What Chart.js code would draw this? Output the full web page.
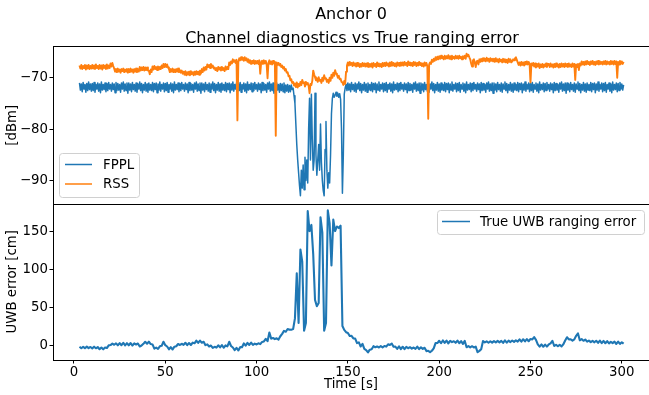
<!DOCTYPE html>
<html><head><meta charset="utf-8">
<script src="https://cdn.jsdelivr.net/npm/chart.js@4.4.1/dist/chart.umd.min.js"></script>
<style>html,body{margin:0;padding:0;background:#fff;overflow:hidden}canvas{display:block}</style>
</head><body><canvas id="c" width="649" height="395"></canvas>
<script>
// sampling: channel diagnostics every 0.5 s, ranging error every 1 s, from T_START [s]
const T_START = 3;
const DT_DIAG = 0.5;
const DT_ERR = 1;

// RSS [dBm], t = 3, 3.5, ... 301
const rssDbm = [
  -67.6,-68.2,-67.5,-68.3,-67.7,-68.1,-67.5,-68.4,-67.6,-68.2,-67.5,-68.3,-67.7,-68.2,
  -67.5,-68.2,-67.6,-68.3,-67.4,-68.1,-67.7,-68.3,-67.5,-68.2,-67.6,-68.4,-67.5,-68.1,-67.6,-68.3,-67.4,-68.2,-67.6,-68.1,
  -67.2,-67.8,-67.1,-67.7,-68.2,-68.8,-68.3,-68.9,-68.2,-68.8,-68.4,-69.0,-68.3,-68.7,-68.2,-68.9,-68.4,-68.8,-68.3,-69.0,
  -68.3,-68.9,-68.2,-68.8,-68.4,-69.0,-68.3,-68.8,-68.2,-68.9,-68.3,-68.8,-67.9,-68.6,-68.0,-68.5,-67.9,-68.6,-68.0,-68.5,
  -68.0,-68.6,-68.6,-69.3,-68.4,-68.9,-67.8,-68.4,-67.7,-68.3,-67.9,-68.5,-67.8,-68.4,-67.9,-68.3,-67.6,-68.1,-67.3,-67.9,
  -67.3,-67.9,-67.4,-68.0,-68.3,-68.9,-68.3,-68.8,-68.2,-68.9,-68.4,-68.9,-68.3,-68.8,-68.2,-68.9,-68.5,-69.0,-68.6,-69.2,
  -68.8,-69.4,-68.7,-69.5,-68.9,-69.4,-68.8,-69.5,-68.7,-69.3,-68.9,-69.5,-68.8,-69.4,-68.7,-69.3,-68.8,-69.4,-68.6,-69.2,
  -68.3,-68.9,-68.0,-68.6,-67.9,-68.4,-67.4,-67.9,-67.5,-68.1,-67.3,-67.9,-67.6,-68.2,-68.0,-68.5,-68.1,-68.7,-67.9,-68.4,
  -68.0,-68.6,-67.9,-68.5,-68.1,-68.7,-67.8,-68.4,-67.9,-68.3,-67.0,-67.5,-66.8,-67.2,-66.4,-66.9,-66.6,-67.1,-66.5,-78.3,
  -66.9,-66.2,-66.6,-66.0,-66.5,-66.1,-66.7,-66.0,-66.6,-66.2,-66.9,-66.4,-67.1,-66.6,-67.3,-66.7,-67.2,-66.6,-67.3,-66.7,
  -67.2,-66.7,-67.3,-66.6,-69.2,-67.0,-66.7,-67.3,-66.6,-67.2,-66.7,-67.4,-70.1,-67.1,-66.6,-67.3,-66.8,-67.4,-66.7,-67.2,
  -66.9,-81.3,-67.0,-67.5,-67.1,-67.6,-67.3,-67.9,-67.6,-68.2,-67.9,-68.6,-68.3,-69.0,-68.9,-69.7,-69.6,-70.5,-70.3,-71.0,
  -70.8,-71.5,-71.1,-71.8,-70.9,-71.9,-71.2,-71.6,-70.8,-71.4,-70.4,-71.0,-70.9,-71.7,-70.8,-71.3,-71.0,-71.6,-73.0,-71.2,
  -71.4,-70.6,-68.6,-69.3,-69.9,-70.5,-70.1,-70.8,-69.9,-70.6,-70.4,-71.0,-70.0,-70.6,-69.5,-70.2,-70.1,-70.8,-70.4,-71.0,
  -70.0,-70.6,-69.4,-70.0,-69.0,-69.6,-68.5,-69.2,-69.4,-70.0,-69.6,-70.3,-70.2,-70.8,-70.9,-71.4,-70.6,-71.2,-68.8,-67.6,
  -67.0,-67.6,-66.9,-67.5,-67.1,-67.7,-67.0,-67.6,-67.2,-67.8,-67.1,-67.7,-67.2,-67.9,-67.3,-67.8,-67.1,-67.7,-67.2,-67.8,
  -67.2,-67.8,-67.1,-67.9,-67.3,-67.8,-67.2,-68.0,-67.1,-67.7,-67.3,-67.9,-67.0,-67.7,-67.2,-67.8,-67.3,-67.9,-67.1,-67.7,
  -67.1,-67.7,-67.0,-67.6,-67.2,-67.8,-67.0,-67.7,-66.9,-67.6,-67.1,-67.7,-67.2,-67.8,-67.0,-67.6,-67.1,-67.7,-67.0,-67.6,
  -67.0,-67.6,-66.9,-67.5,-67.1,-67.7,-66.8,-67.5,-67.0,-67.6,-67.1,-67.7,-66.9,-67.5,-67.0,-67.7,-67.1,-67.6,-66.9,-67.5,
  -67.1,-67.7,-67.2,-67.8,-67.0,-67.6,-67.1,-67.7,-78.0,-67.4,-67.0,-67.3,-66.5,-66.9,-66.3,-66.7,-66.0,-66.5,-65.9,-66.4,
  -65.8,-66.3,-65.7,-66.2,-65.9,-66.4,-65.7,-66.3,-65.8,-66.2,-65.6,-66.3,-65.8,-66.4,-65.7,-66.2,-65.9,-66.3,-65.7,-66.2,
  -65.8,-66.3,-65.7,-66.2,-65.9,-66.4,-65.8,-66.2,-65.7,-66.3,-65.3,-65.8,-65.5,-66.0,-66.4,-67.2,-67.8,-66.6,-66.4,-67.1,
  -67.9,-66.8,-66.7,-67.4,-66.4,-66.9,-66.3,-66.8,-66.2,-66.7,-66.3,-66.8,-66.1,-66.7,-66.3,-66.9,-66.2,-66.7,-66.3,-66.8,
  -66.3,-66.9,-66.2,-66.8,-66.4,-67.0,-66.3,-66.8,-66.5,-67.0,-66.3,-66.9,-66.4,-67.0,-66.5,-67.1,-66.3,-66.9,-66.4,-67.0,
  -66.8,-66.4,-66.6,-66.2,-66.0,-66.5,-67.0,-67.5,-67.0,-67.6,-66.9,-67.5,-67.0,-67.6,-66.9,-67.4,-66.8,-67.4,-66.9,-67.3,
  -70.9,-67.2,-67.6,-67.1,-67.8,-67.2,-68.0,-67.3,-67.8,-67.2,-68.1,-67.4,-67.9,-67.3,-68.0,-67.4,-67.8,-67.2,-67.9,-67.3,
  -67.3,-67.9,-67.2,-67.8,-67.4,-68.0,-67.3,-67.9,-67.2,-67.8,-67.4,-68.0,-67.3,-67.9,-67.2,-67.8,-67.3,-67.9,-67.2,-67.8,
  -67.3,-67.9,-67.2,-67.8,-67.4,-67.9,-67.2,-67.8,-67.3,-70.4,-67.4,-67.9,-67.3,-68.5,-67.2,-67.6,-66.8,-67.4,-66.9,-67.5,
  -66.8,-67.4,-66.7,-67.3,-66.9,-67.5,-66.8,-67.3,-66.7,-67.4,-66.9,-67.5,-66.8,-67.3,-66.7,-67.4,-66.8,-67.3,-66.9,-67.4,
  -66.8,-67.3,-66.7,-67.4,-66.8,-67.3,-66.9,-67.4,-66.7,-67.3,-66.8,-67.4,-66.7,-67.3,-66.8,-70.0,-66.9,-67.4,-66.7,-67.3,
  -66.8,-67.3,-66.9
];

// FPPL [dBm], t = 3, 3.5, ... 301
const fpplDbm = [
  -71.0,-72.4,-71.2,-72.7,-70.9,-72.2,-71.3,-72.8,-71.1,-72.5,-70.8,-72.3,-71.2,-72.6,
  -71.1,-72.5,-70.9,-72.8,-71.3,-72.2,-71.0,-72.6,-71.2,-72.9,-70.8,-72.4,-71.3,-72.3,-71.0,-72.7,-71.1,-72.5,-70.9,-72.2,
  -71.3,-72.6,-71.0,-72.3,-71.2,-72.9,-70.9,-72.5,-71.1,-72.4,-71.3,-72.8,-71.0,-72.2,-70.8,-72.6,-71.2,-72.5,-71.0,-73.0,
  -71.0,-72.4,-71.2,-72.7,-70.9,-72.3,-71.3,-72.6,-71.0,-72.8,-71.2,-72.2,-70.8,-72.5,-71.1,-72.9,-71.3,-72.4,-70.9,-72.6,
  -71.2,-72.8,-71.0,-72.4,-71.3,-72.5,-70.9,-72.7,-71.1,-72.3,-71.0,-72.9,-71.2,-72.4,-70.8,-72.6,-71.3,-72.2,-71.0,-72.7,
  -71.1,-72.5,-70.9,-72.8,-71.3,-72.2,-71.0,-72.6,-71.2,-72.9,-70.8,-72.4,-71.3,-72.3,-71.0,-72.7,-71.1,-72.5,-70.9,-72.2,
  -71.3,-72.6,-71.0,-72.3,-71.2,-72.9,-70.9,-72.5,-71.1,-72.4,-71.3,-72.8,-71.0,-72.2,-70.8,-72.6,-71.2,-72.5,-71.0,-73.0,
  -71.0,-72.4,-71.2,-72.7,-70.9,-72.3,-71.3,-72.6,-71.0,-72.8,-71.2,-72.2,-70.8,-72.5,-71.1,-72.9,-71.3,-72.4,-70.9,-72.6,
  -71.2,-72.8,-71.0,-72.4,-71.3,-72.5,-70.9,-72.7,-71.1,-72.3,-71.0,-72.9,-71.2,-72.4,-70.8,-72.6,-71.3,-72.2,-71.0,-72.7,
  -71.1,-72.5,-70.9,-72.8,-71.3,-72.2,-71.0,-72.6,-71.2,-72.9,-70.8,-72.4,-71.3,-72.3,-71.0,-72.7,-71.1,-72.5,-70.9,-72.2,
  -71.3,-72.6,-71.0,-72.3,-71.2,-72.9,-70.9,-72.5,-71.1,-72.4,-71.3,-72.8,-71.0,-72.2,-70.8,-72.6,-71.2,-72.5,-71.0,-73.0,
  -71.2,-72.6,-71.0,-72.4,-71.3,-72.8,-71.1,-72.5,-71.2,-72.7,-71.0,-72.9,-71.4,-72.6,-71.3,-72.8,-71.5,-72.7,-71.4,-72.3,
  -72.0,-73.5,-75.0,-79.0,-83.0,-86.0,-88.5,-91.0,-93.0,-88.0,-91.5,-87.0,-91.8,-85.5,-90.0,-86.0,-90.5,-80.0,-74.0,-86.0,
  -73.2,-82.0,-88.0,-86.0,-73.0,-85.0,-89.0,-86.0,-83.0,-88.0,-79.0,-86.5,-90.0,-92.0,-93.0,-84.0,-78.5,-88.0,-91.5,-88.5,
  -90.5,-85.0,-77.0,-74.0,-73.0,-73.8,-73.4,-72.8,-73.6,-73.0,-73.8,-73.1,-74.2,-80.0,-92.5,-85.0,-73.2,-72.0,-71.3,-72.5,
  -71.0,-72.4,-71.2,-72.7,-70.9,-72.3,-71.3,-72.6,-71.0,-72.8,-71.2,-72.2,-70.8,-72.5,-71.1,-72.9,-71.3,-72.4,-70.9,-72.6,
  -71.2,-72.8,-71.0,-72.4,-71.3,-72.5,-70.9,-72.7,-71.1,-72.3,-71.0,-72.9,-71.2,-72.4,-70.8,-72.6,-71.3,-72.2,-71.0,-72.7,
  -71.1,-72.5,-70.9,-72.8,-71.3,-72.2,-71.0,-72.6,-71.2,-72.9,-70.8,-72.4,-71.3,-72.3,-71.0,-72.7,-71.1,-72.5,-70.9,-72.2,
  -71.3,-72.6,-71.0,-72.3,-71.2,-72.9,-70.9,-72.5,-71.1,-72.4,-71.3,-72.8,-71.0,-72.2,-70.8,-72.6,-71.2,-72.5,-71.0,-73.0,
  -71.0,-72.4,-71.2,-72.7,-70.9,-72.3,-71.3,-72.6,-71.0,-72.8,-71.2,-72.2,-70.8,-72.5,-71.1,-72.9,-71.3,-72.4,-70.9,-72.6,
  -71.2,-72.8,-71.0,-72.4,-71.3,-72.5,-70.9,-72.7,-71.1,-72.3,-71.0,-72.9,-71.2,-72.4,-70.8,-72.6,-71.3,-72.2,-71.0,-72.7,
  -71.1,-72.5,-70.9,-72.8,-71.3,-72.2,-71.0,-72.6,-71.2,-72.9,-70.8,-72.4,-71.3,-72.3,-71.0,-72.7,-71.1,-72.5,-70.9,-72.2,
  -71.3,-72.6,-71.0,-72.3,-71.2,-72.9,-70.9,-72.5,-71.1,-72.4,-71.3,-72.8,-71.0,-72.2,-70.8,-72.6,-71.2,-72.5,-71.0,-73.0,
  -71.0,-72.4,-71.2,-72.7,-70.9,-72.3,-71.3,-72.6,-71.0,-72.8,-71.2,-72.2,-70.8,-72.5,-71.1,-72.9,-71.3,-72.4,-70.9,-72.6,
  -71.2,-72.8,-71.0,-72.4,-71.3,-72.5,-70.9,-72.7,-71.1,-72.3,-71.0,-72.9,-71.2,-72.4,-70.8,-72.6,-71.3,-72.2,-71.0,-72.7,
  -71.1,-72.5,-70.9,-72.8,-71.3,-72.2,-71.0,-72.6,-71.2,-72.9,-70.8,-72.4,-71.3,-72.3,-71.0,-72.7,-71.1,-72.5,-70.9,-72.2,
  -71.3,-72.6,-71.0,-72.3,-71.2,-72.9,-70.9,-72.5,-71.1,-72.4,-71.3,-72.8,-71.0,-72.2,-70.8,-72.6,-71.2,-72.5,-71.0,-73.0,
  -71.0,-72.4,-71.2,-72.7,-70.9,-72.3,-71.3,-72.6,-71.0,-72.8,-71.2,-72.2,-70.8,-72.5,-71.1,-72.9,-71.3,-72.4,-70.9,-72.6,
  -71.2,-72.8,-71.0,-72.4,-71.3,-72.5,-70.9,-72.7,-71.1,-72.3,-71.0,-72.9,-71.2,-72.4,-70.8,-72.6,-71.3,-72.2,-71.0,-72.7,
  -71.1,-72.5,-70.9,-72.8,-71.3,-72.2,-71.0,-72.6,-71.2,-72.9,-70.8,-72.4,-71.3,-72.3,-71.0,-72.7,-71.1,-72.5,-70.9,-72.2,
  -71.2,-72.4,-71.4
];

// True UWB ranging error [cm], t = 3..301
const uwbErrorCm = [
  -1.0,-3.0,-1.2,-2.9,-0.9,-2.8,-1.3,
  -3.1,-0.9,-3.0,-1.4,-4.2,-2.0,-4.4,-1.9,-2.7,0.8,
  1.2,3.1,1.6,3.4,0.9,3.8,1.0,4.2,0.8,3.6,
  0.9,3.9,0.6,3.5,1.9,3.2,-0.6,0.6,2.8,5.5,
  3.0,5.6,2.5,2.0,-3.5,-2.2,-3.9,-0.4,0.2,5.5,
  1.0,-0.7,-4.3,-1.6,-4.6,-0.9,-0.3,2.6,1.3,2.9,
  1.5,4.2,1.1,3.9,1.3,4.4,3.5,6.9,4.1,7.0,
  4.3,5.5,1.1,2.1,-0.7,0.6,-2.5,-1.1,-2.1,0.9,
  -1.9,1.2,-2.3,0.7,-0.5,5.5,0.0,-2.0,-5.5,-2.4,
  -5.9,-1.5,-1.6,3.3,0.5,4.1,1.3,4.5,1.5,3.1,
  2.0,3.5,2.4,5.3,5.9,9.3,6.2,17.5,9.6,10.4,
  9.0,10.0,8.4,12.7,15.8,19.7,18.6,22.2,21.3,21.2,
  22.0,36.0,95.0,30.0,126.0,110.0,20.0,30.0,176.0,150.0,
  158.0,120.0,60.0,52.0,56.0,168.0,148.0,20.0,30.0,177.0,
  160.0,105.0,165.0,150.0,156.0,154.0,157.0,26.0,21.0,18.0,
  17.0,13.0,13.2,9.8,9.7,3.8,4.7,-0.7,2.7,-3.7,
  -5.3,-8.4,-4.8,-4.2,-0.3,-1.7,-0.6,-2.0,-0.2,-1.8,
  0.0,-0.8,2.2,1.2,3.2,-1.0,-0.8,-3.8,-0.6,-4.0,
  -1.0,-4.2,-1.2,-3.0,-1.6,-3.4,-2.0,-3.7,-0.8,-4.0,
  -1.8,-3.8,-2.3,-6.7,-6.3,-8.0,-6.2,-3.2,3.7,3.8,
  6.8,3.6,7.2,4.0,7.0,3.4,6.8,5.0,6.2,4.2,
  7.0,3.6,6.4,2.8,6.6,-1.7,0.0,-1.8,-0.3,-2.0,
  -0.8,-8.2,-6.4,-4.2,6.4,4.6,6.0,4.2,6.2,4.4,
  6.4,4.6,6.6,4.8,6.7,4.0,7.3,4.4,7.0,5.1,
  7.2,5.4,7.4,5.8,8.6,5.6,8.8,6.0,9.0,6.2,
  9.2,8.6,11.6,8.0,2.2,-0.8,2.0,-1.0,1.8,-0.7,
  2.0,3.4,6.8,0.0,1.6,-0.4,1.5,-0.6,2.2,7.2,
  11.4,8.6,8.8,7.0,8.6,13.3,16.4,7.4,9.0,6.8,
  8.4,5.6,7.0,5.0,6.6,4.8,6.8,4.0,7.0,3.8,
  6.6,3.6,6.4,3.4,5.4,3.8,5.6,2.6,5.8,2.8,
  4.8,3.0
];

const xTicks = [0, 50, 100, 150, 200, 250, 300];
const dbmTicks = [-90, -80, -70];
const errTicks = [0, 50, 100, 150];

const pts = (arr, dt) => arr.map((v, i) => ({x: T_START + i * dt, y: v}));

const FONT = 'DejaVu Sans';
const FS = 13.3;
const C_BLUE = '#1f77b4', C_ORANGE = '#ff7f0e';
const minus = v => String(v).replace('-', '\u2212');

Chart.defaults.font.family = FONT;
Chart.defaults.font.size = FS;
Chart.defaults.color = '#000';

function axisCommon(ticksArr) {
  return {
    grid: {drawOnChartArea: false, drawTicks: true, tickLength: 3.5, tickWidth: 1, tickColor: '#000', color: '#000'},
    border: {display: true, color: '#000', width: 1},
    ticks: {padding: 1.5, color: '#000', font: {size: FS}, callback: v => minus(v), maxRotation: 0, autoSkip: false},
    afterBuildTicks: s => { s.ticks = ticksArr.map(v => ({value: v})); }
  };
}

function roundRect(ctx, x, y, w, h, r) {
  ctx.beginPath();
  ctx.moveTo(x + r, y);
  ctx.lineTo(x + w - r, y); ctx.arcTo(x + w, y, x + w, y + r, r);
  ctx.lineTo(x + w, y + h - r); ctx.arcTo(x + w, y + h, x + w - r, y + h, r);
  ctx.lineTo(x + r, y + h); ctx.arcTo(x, y + h, x, y + h - r, r);
  ctx.lineTo(x, y + r); ctx.arcTo(x, y, x + r, y, r);
  ctx.closePath();
}

function drawLegend(ctx, box, items) {
  ctx.save();
  roundRect(ctx, box.x + 0.5, box.y + 0.5, box.w, box.h, 3);
  ctx.fillStyle = 'rgba(255,255,255,0.8)';
  ctx.fill();
  ctx.strokeStyle = '#d0d0d0';
  ctx.lineWidth = 1;
  ctx.stroke();
  ctx.font = FS + 'px "' + FONT + '"';
  ctx.textBaseline = 'middle';
  ctx.textAlign = 'left';
  for (const it of items) {
    ctx.strokeStyle = it.color;
    ctx.lineWidth = 1.5;
    ctx.beginPath();
    ctx.moveTo(box.x + box.lx0, it.y);
    ctx.lineTo(box.x + box.lx1, it.y);
    ctx.stroke();
    ctx.fillStyle = '#000';
    ctx.fillText(it.label, box.x + box.tx, it.y + 1);
  }
  ctx.restore();
}

const decor = {
  id: 'decor',
  afterDraw(chart) {
    const ctx = chart.ctx, a = chart.chartArea;
    const yt = chart.scales.yDbm;
    ctx.save();
    ctx.strokeStyle = '#000';
    ctx.lineWidth = 1;
    ctx.beginPath();
    const ty = Math.round(a.top) - 0.5;
    ctx.moveTo(a.left, ty); ctx.lineTo(a.right, ty);
    const my = Math.round(yt.bottom) + 0.5;
    ctx.moveTo(a.left, my); ctx.lineTo(a.right, my);
    ctx.stroke();
    ctx.fillStyle = '#000';
    ctx.font = '16px "' + FONT + '"';
    ctx.textAlign = 'center';
    ctx.textBaseline = 'alphabetic';
    ctx.fillText('Anchor 0', 351, 19);
    ctx.fillText('Channel diagnostics vs True ranging error', 352, 43);
    ctx.restore();
    drawLegend(ctx, {x: 59, y: 153, w: 80, h: 44, lx0: 6, lx1: 33, tx: 44},
      [{color: C_BLUE, label: 'FPPL', y: 164.5}, {color: C_ORANGE, label: 'RSS', y: 184}]);
    drawLegend(ctx, {x: 437, y: 210, w: 207, h: 24, lx0: 5, lx1: 33, tx: 43},
      [{color: C_BLUE, label: 'True UWB ranging error', y: 221.5}]);
  }
};

new Chart(document.getElementById('c'), {
  type: 'line',
  data: {
    datasets: [
      {label: 'FPPL', data: pts(fpplDbm, DT_DIAG), yAxisID: 'yDbm', borderColor: C_BLUE, borderWidth: 1.5, pointRadius: 0, order: 1},
      {label: 'RSS', data: pts(rssDbm, DT_DIAG), yAxisID: 'yDbm', borderColor: C_ORANGE, borderWidth: 1.9, pointRadius: 0, order: 0},
      {label: 'True UWB ranging error', data: pts(uwbErrorCm, DT_ERR), yAxisID: 'yErr', borderColor: C_BLUE, borderWidth: 2.1, pointRadius: 0, order: 2}
    ]
  },
  options: {
    responsive: false,
    animation: false,
    devicePixelRatio: 1,
    layout: {padding: {top: 47, left: 0, right: 0, bottom: 0}},
    plugins: {legend: {display: false}, tooltip: {enabled: false}, title: {display: false}},
    elements: {line: {tension: 0, borderJoinStyle: 'round', borderCapStyle: 'butt'}},
    scales: {
      x: Object.assign(axisCommon(xTicks), {
        type: 'linear', min: -11.5, max: 314.9,
        title: {display: true, text: 'Time [s]', color: '#000', font: {size: FS}, padding: {top: 0, bottom: 2}},
        afterFit: s => { s.height = 35; }
      }),
      yErr: Object.assign(axisCommon(errTicks), {
        type: 'linear', position: 'left', stack: 'panels', stackWeight: 1,
        min: -18.3, max: 186,
        title: {display: true, text: 'UWB error [cm]', color: '#000', font: {size: FS}, padding: {top: 5, bottom: 0}},
        afterFit: s => { s.width = 53; }
      }),
      yDbm: Object.assign(axisCommon(dbmTicks), {
        type: 'linear', position: 'left', stack: 'panels', stackWeight: 1,
        min: -94.5, max: -64.0,
        title: {display: true, text: '[dBm]', color: '#000', font: {size: FS}, padding: {top: 5, bottom: 0}},
        afterFit: s => { s.width = 53; }
      })
    }
  },
  plugins: [decor]
});
</script>
</body></html>
